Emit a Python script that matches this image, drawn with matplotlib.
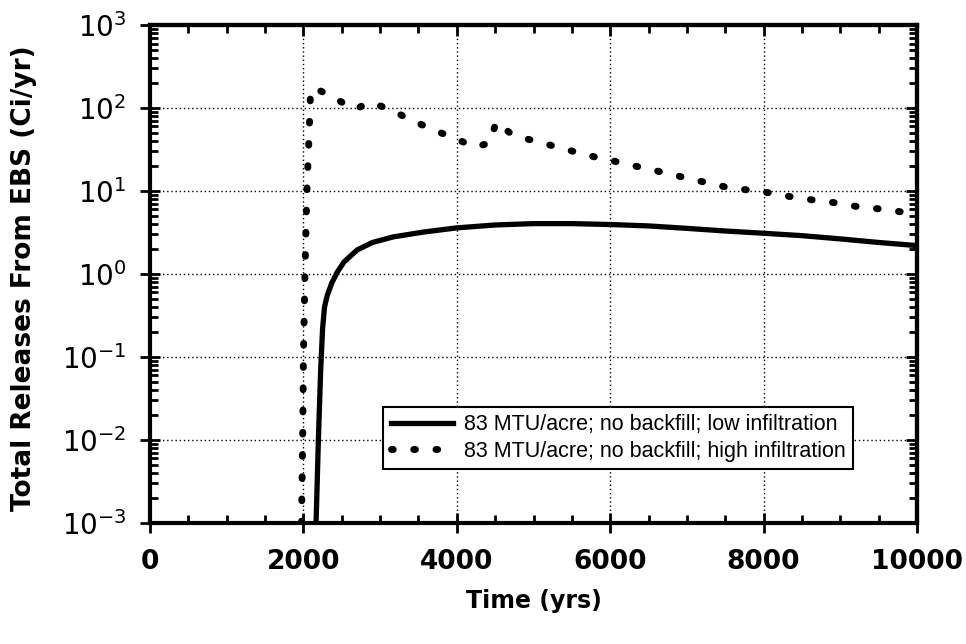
import numpy as np
import matplotlib
matplotlib.use('Agg')
import matplotlib.pyplot as plt
from matplotlib.ticker import MultipleLocator, LogLocator, LogFormatterMathtext, NullFormatter

# time (yrs) and release rates (Ci/yr)
time_low = [2165, 2195, 2225, 2250, 2275, 2310, 2370, 2440, 2530, 2700, 2900, 3170,
            3560, 4000, 4500, 5000, 5500, 6000, 6500, 7000, 7500, 8000, 8500, 9000,
            9500, 10000]
rel_low = [0.001, 0.01, 0.07, 0.22, 0.4, 0.55, 0.78, 1.05, 1.4, 1.95, 2.4, 2.8,
           3.2, 3.6, 3.9, 4.05, 4.05, 3.95, 3.8, 3.55, 3.3, 3.1, 2.9, 2.65,
           2.4, 2.2]

time_high = [1975, 1990, 2000, 2020, 2045, 2075, 2090, 2130, 2386, 2673, 2855, 3090,
             3377, 3664, 3950, 4237, 4433, 4511, 4733, 5020, 5306, 5580, 5854, 6141,
             6428, 6714, 6975, 7262, 7536, 7797, 8084, 8370, 8644, 8944, 9218, 9505,
             9804, 10000]
rel_high = [0.001, 0.01, 0.1, 1, 10, 50, 135, 178, 135, 96, 117, 100,
            74, 56, 44, 34, 38, 68, 47, 40, 34, 29, 25, 22,
            19, 16.6, 14.5, 12.6, 11, 10.3, 9.5, 8.5, 7.8, 7.2, 6.5, 6.1,
            5.6, 5.4]

labels = ['83 MTU/acre; no backfill; low infiltration',
          '83 MTU/acre; no backfill; high infiltration']

fig = plt.figure(figsize=(9.66, 6.44), dpi=100)
ax = fig.add_axes([0.1553, 0.188, 0.794, 0.773])

ax.plot(time_low, rel_low, color='k', lw=3.8, label=labels[0])
ax.plot(time_high, rel_high, color='k', lw=5, linestyle=(0, (0.25, 2.95)),
        dash_capstyle='round', label=labels[1])

ax.set_yscale('log')
ax.set_xlim(0, 10000)
ax.set_ylim(1e-3, 1e3)

ax.xaxis.set_major_locator(MultipleLocator(2000))
ax.xaxis.set_minor_locator(MultipleLocator(500))
ax.yaxis.set_major_locator(LogLocator(base=10, numticks=10))
ax.yaxis.set_minor_locator(LogLocator(base=10, subs=np.arange(2, 10), numticks=10))
ax.yaxis.set_major_formatter(LogFormatterMathtext())
ax.yaxis.set_minor_formatter(NullFormatter())

ax.grid(True, which='major', color='k', linestyle=(0, (1, 2)), lw=1)

for s in ax.spines.values():
    s.set_linewidth(3)

ax.tick_params(which='major', direction='inout', length=14, width=2, color='k', pad=12)
ax.tick_params(which='minor', direction='in', length=6, width=2, color='k')
ax.tick_params(axis='y', which='major', labelsize=20, pad=10)
for lab in ax.get_xticklabels():
    lab.set_fontsize(19)
    lab.set_fontweight('bold')

# ticks on top and right point inward only
top = ax.secondary_xaxis('top')
top.xaxis.set_major_locator(MultipleLocator(2000))
top.xaxis.set_minor_locator(MultipleLocator(500))
top.tick_params(which='major', direction='in', length=8, width=2, labeltop=False)
top.tick_params(which='minor', direction='in', length=6, width=2)
top.spines['top'].set_linewidth(3)

right = ax.secondary_yaxis('right')
right.yaxis.set_major_locator(LogLocator(base=10, numticks=10))
right.yaxis.set_minor_locator(LogLocator(base=10, subs=np.arange(2, 10), numticks=10))
right.tick_params(which='major', direction='in', length=8, width=2, labelright=False)
right.tick_params(which='minor', direction='in', length=6, width=2, labelright=False)
right.spines['right'].set_linewidth(3)

ax.set_xlabel('Time (yrs)', fontsize=17, fontweight='bold', labelpad=10)
ax.set_ylabel('Total Releases From EBS (Ci/yr)', fontsize=19, fontweight='bold')
ax.yaxis.set_label_coords(-0.147, 0.492)

leg = ax.legend(loc='lower left', bbox_to_anchor=(0.304, 0.108), borderaxespad=0,
                prop={'family': 'Liberation Sans', 'size': 15.5}, handlelength=2.9,
                fancybox=False, framealpha=1, edgecolor='k', labelspacing=0.25,
                borderpad=0.35, handletextpad=0.5)
leg.get_frame().set_linewidth(1.5)

fig.savefig('out.png', dpi=100)
